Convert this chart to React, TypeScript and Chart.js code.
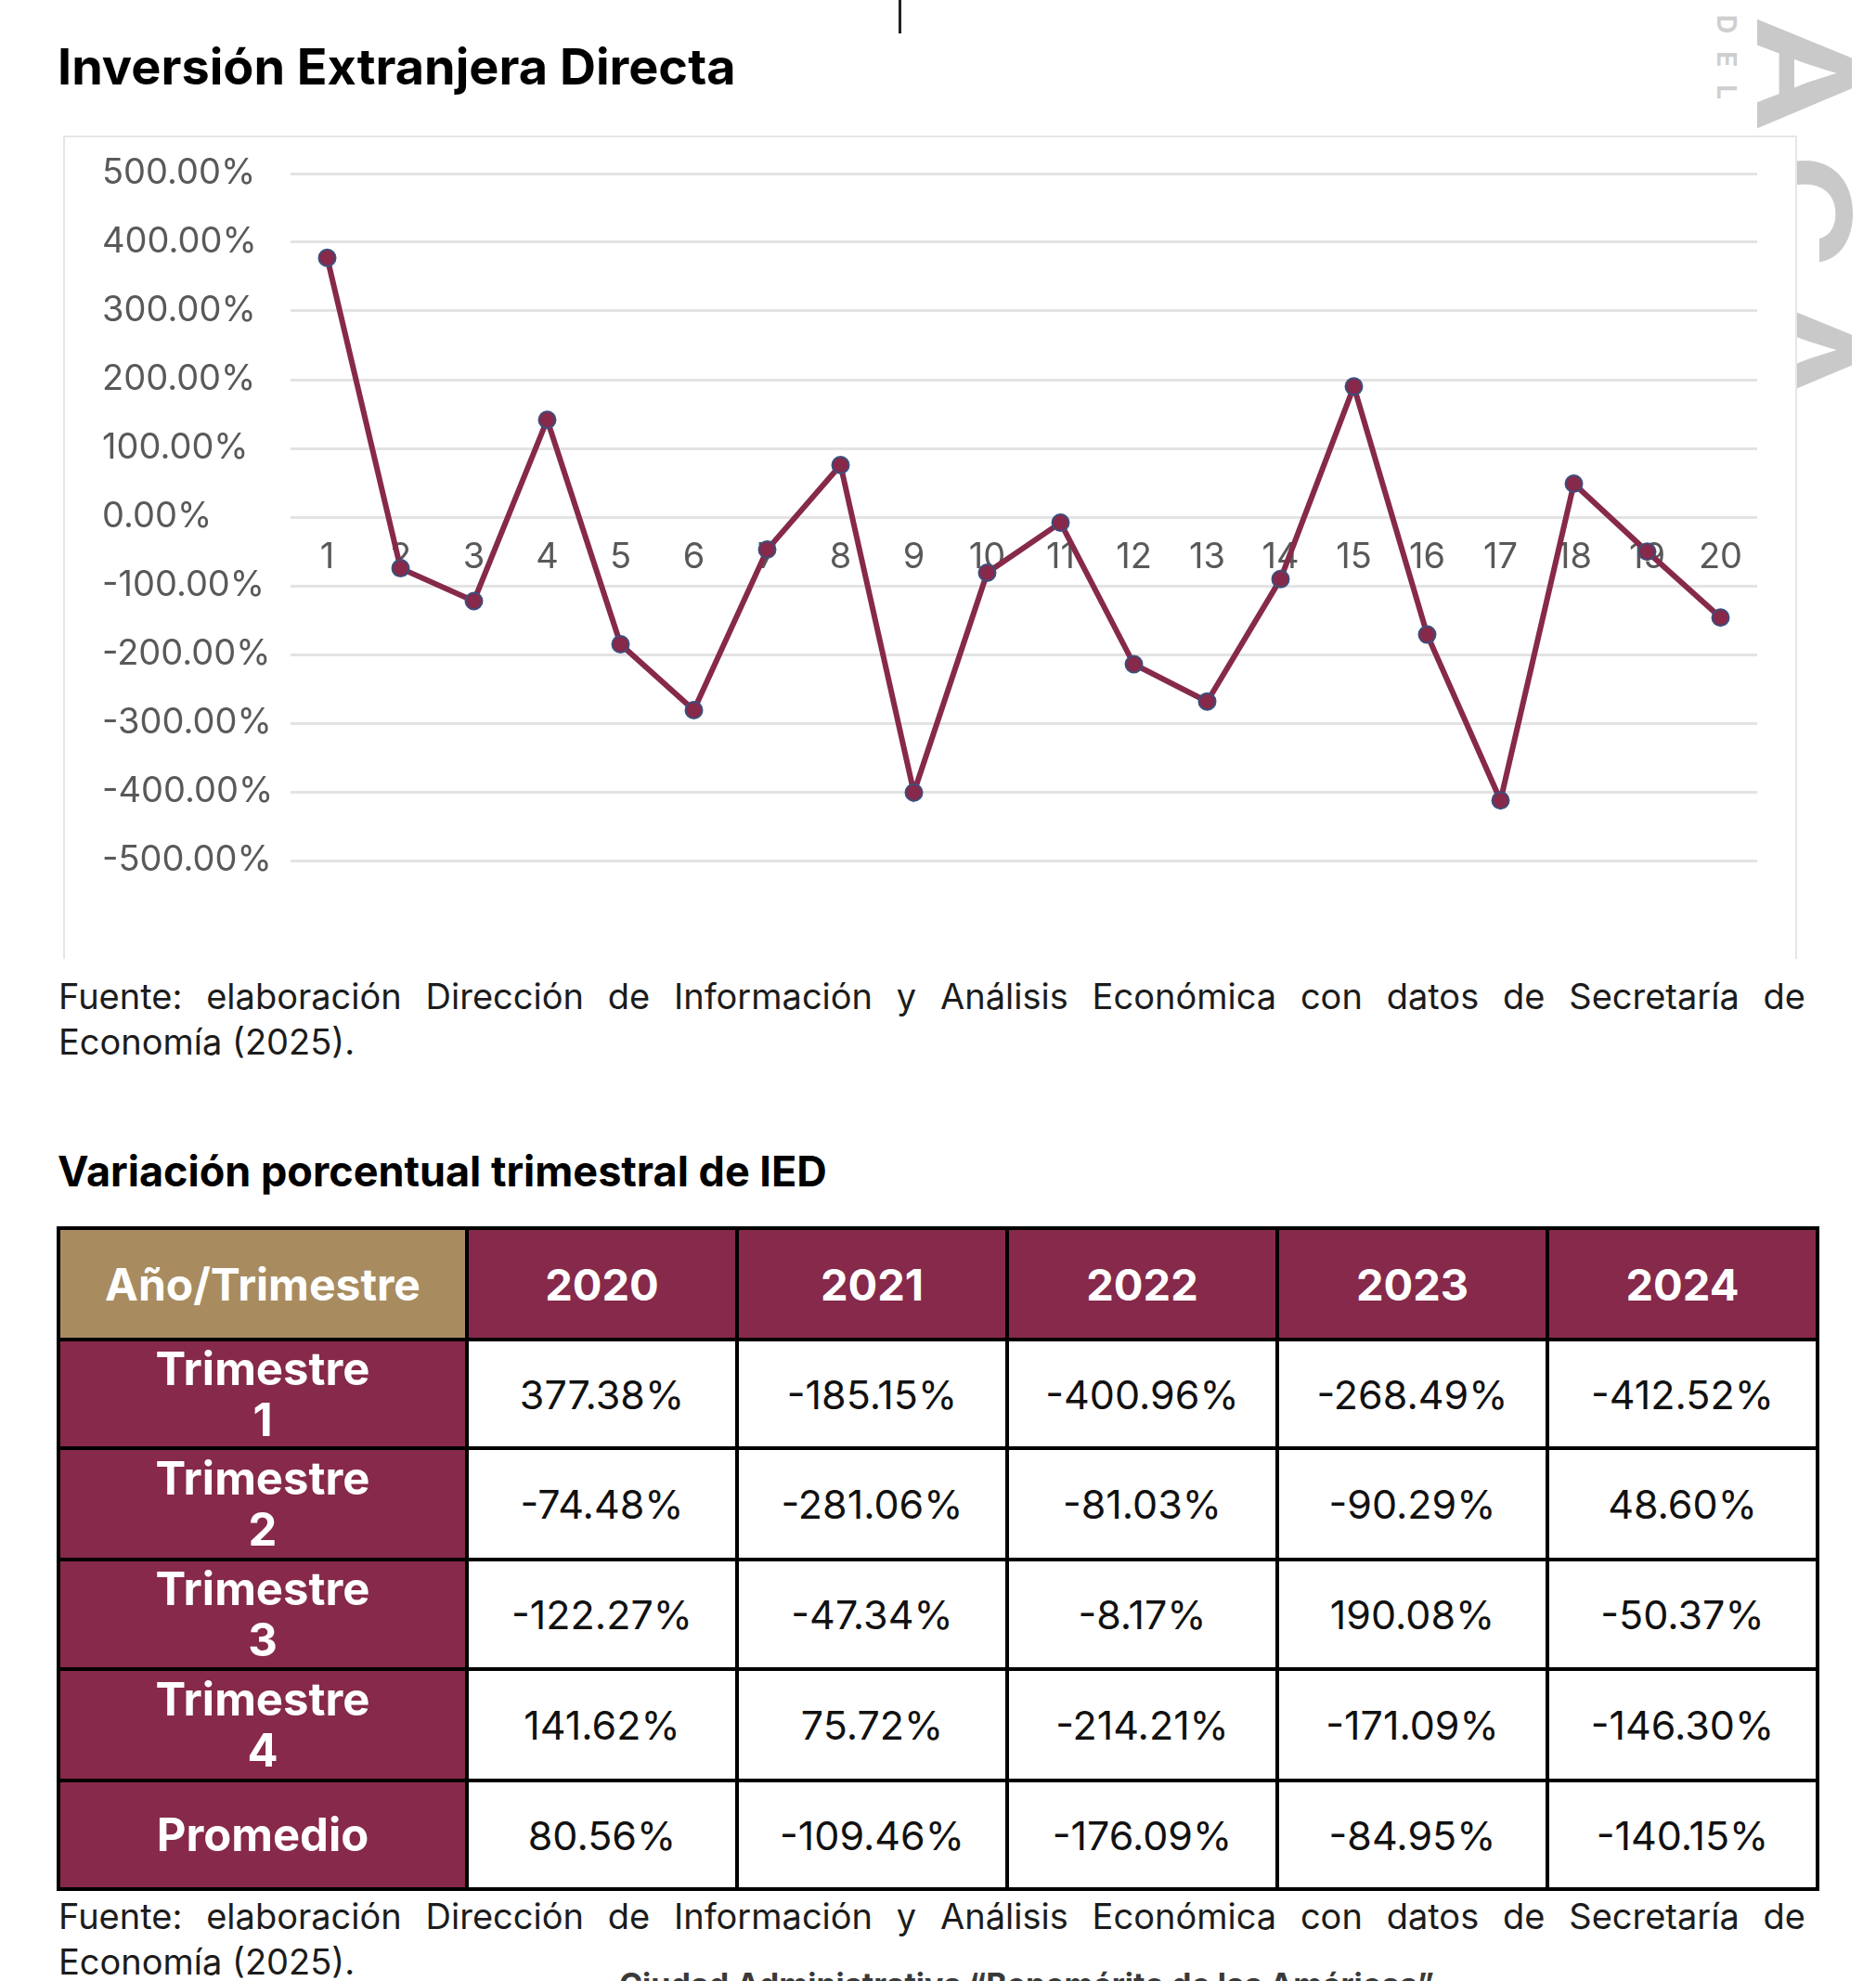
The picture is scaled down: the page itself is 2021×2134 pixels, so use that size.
import React, { useEffect, useRef } from 'react';
import { Chart, registerables } from 'chart.js';

Chart.register(...registerables);

// ---- data ----
const quarterLabels = ['1', '2', '3', '4', '5', '6', '7', '8', '9', '10', '11', '12', '13', '14', '15', '16', '17', '18', '19', '20'];
const variation = [
  377.38, -74.48, -122.27, 141.62,
  -185.15, -281.06, -47.34, 75.72,
  -400.96, -81.03, -8.17, -214.21,
  -268.49, -90.29, 190.08, -171.09,
  -412.52, 48.6, -50.37, -146.3,
];
const yMin = -500;
const yMax = 500;
const yStep = 100;

const years = ['2020', '2021', '2022', '2023', '2024'];
const rowLabels = [['Trimestre', '1'], ['Trimestre', '2'], ['Trimestre', '3'], ['Trimestre', '4'], ['Promedio']];
const averages = [80.56, -109.46, -176.09, -84.95, -140.15];

const MAROON = '#86294A';
const TAN = '#A88C60';
const FONT = 'Inter, "Noto Sans", sans-serif';

const fmt = (v: number) => v.toFixed(2) + '%';

function LineChart() {
  const ref = useRef<HTMLCanvasElement | null>(null);
  useEffect(() => {
    if (!ref.current) return;
    const chart = new Chart(ref.current, {
      type: 'line',
      data: {
        labels: quarterLabels,
        datasets: [
          {
            data: variation,
            borderColor: MAROON,
            borderWidth: 6,
            tension: 0,
            pointRadius: 9,
            pointBorderWidth: 2,
            pointBackgroundColor: MAROON,
            pointBorderColor: '#3d4f7c',
            fill: false,
          },
        ],
      },
      options: {
        animation: false,
        responsive: false,
        devicePixelRatio: 1,
        layout: { padding: { left: 41, right: 41, top: 40, bottom: 104 } },
        plugins: { legend: { display: false }, tooltip: { enabled: false } },
        scales: {
          x: {
            type: 'category',
            position: { y: 0 } as any,
            offset: true,
            grid: { display: false, drawTicks: false },
            border: { display: false },
            ticks: {
              padding: 21,
              maxRotation: 0,
              autoSkip: false,
              color: '#595959',
              font: { family: FONT, size: 38 },
            },
          },
          y: {
            min: yMin,
            max: yMax,
            grid: { color: '#e3e3e3', lineWidth: 3, drawTicks: false },
            border: { display: false },
            afterFit: (scale: any) => {
              scale.width = 203;
            },
            ticks: {
              stepSize: yStep,
              crossAlign: 'far',
              color: '#595959',
              font: { family: FONT, size: 38 },
              callback: (v: any) => Number(v).toFixed(2) + '%',
            },
          },
        },
      },
    });
    return () => chart.destroy();
  }, []);
  return (
    <canvas
      ref={ref}
      width={1865}
      height={884}
      style={{ position: 'absolute', left: 69, top: 147, width: 1865, height: 884 }}
    />
  );
}

const colWidths = [436, 287, 287, 287, 287, 287];
const rowHeights = [116, 113, 116, 114, 116, 113];

function DataTable() {
  const cells: React.ReactNode[] = [];
  cells.push(
    <div key="h0" style={{ background: TAN, color: '#fff', fontWeight: 700, fontSize: 48, display: 'flex', alignItems: 'center', justifyContent: 'center' }}>
      Año/Trimestre
    </div>
  );
  years.forEach((y) =>
    cells.push(
      <div key={'h' + y} style={{ background: MAROON, color: '#fff', fontWeight: 700, fontSize: 47, display: 'flex', alignItems: 'center', justifyContent: 'center' }}>
        {y}
      </div>
    )
  );
  rowLabels.forEach((lab, r) => {
    cells.push(
      <div key={'r' + r} style={{ background: MAROON, color: '#fff', fontWeight: 700, fontSize: 49, lineHeight: '55px', display: 'flex', flexDirection: 'column', alignItems: 'center', justifyContent: 'center', textAlign: 'center' }}>
        {lab.map((t, i) => (
          <div key={i}>{t}</div>
        ))}
      </div>
    );
    years.forEach((_, c) => {
      const v = r < 4 ? variation[c * 4 + r] : averages[c];
      cells.push(
        <div key={'c' + r + '-' + c} style={{ background: '#fff', color: '#111', fontSize: 43, display: 'flex', alignItems: 'center', justifyContent: 'center' }}>
          {fmt(v)}
        </div>
      );
    });
  });
  return (
    <div
      style={{
        position: 'absolute',
        left: 61,
        top: 1321,
        background: '#000',
        padding: 4,
        display: 'grid',
        gap: 4,
        gridTemplateColumns: colWidths.map((w) => w + 'px').join(' '),
        gridTemplateRows: rowHeights.map((h) => h + 'px').join(' '),
      }}
    >
      {cells}
    </div>
  );
}

function Fuente({ top }: { top: number }) {
  return (
    <div style={{ position: 'absolute', left: 63, top, width: 1882, fontSize: 38, lineHeight: '49px', color: '#1c1c1c' }}>
      <div style={{ textAlign: 'justify', textAlignLast: 'justify' as any, whiteSpace: 'nowrap' }}>
        Fuente: elaboración Dirección de Información y Análisis Económica con datos de Secretaría de
      </div>
      <div>Economía (2025).</div>
    </div>
  );
}

export default function App() {
  return (
    <div
      style={{
        position: 'fixed',
        left: 0,
        top: 0,
        width: 2021,
        height: 2134,
        overflow: 'hidden',
        background: '#fff',
        fontFamily: FONT,
      }}
    >
      {/* watermark */}
      <div
        style={{
          position: 'absolute',
          left: 2014,
          top: -445,
          transformOrigin: '0 0',
          transform: 'rotate(90deg) scaleX(1.2)',
          fontSize: 140,
          lineHeight: '140px',
          fontWeight: 700,
          letterSpacing: 25,
          color: '#c9c9c9',
          whiteSpace: 'nowrap',
        }}
      >
        OAXACA
      </div>
      <div
        style={{
          position: 'absolute',
          left: 1874,
          top: 16,
          transformOrigin: '0 0',
          transform: 'rotate(90deg)',
          fontSize: 28,
          lineHeight: '28px',
          fontWeight: 700,
          letterSpacing: 19,
          color: '#cfcfcf',
          whiteSpace: 'nowrap',
        }}
      >
        DEL
      </div>
      <div style={{ position: 'absolute', left: 968, top: 0, width: 3, height: 36, background: '#222' }} />

      <div style={{ position: 'absolute', left: 62, top: 45, fontSize: 54, lineHeight: '54px', fontWeight: 700, color: '#000', whiteSpace: 'nowrap' }}>
        Inversión Extranjera Directa
      </div>

      {/* chart box */}
      <div
        style={{
          position: 'absolute',
          left: 68,
          top: 146,
          width: 1864,
          height: 885,
          background: '#fff',
          borderLeft: '2px solid #e6e6e6',
          borderTop: '2px solid #e6e6e6',
          borderRight: '2px solid #e6e6e6',
        }}
      />
      <LineChart />

      <Fuente top={1049} />

      <div style={{ position: 'absolute', left: 62, top: 1236, fontSize: 45, lineHeight: '52px', fontWeight: 700, color: '#000', whiteSpace: 'nowrap' }}>
        Variación porcentual trimestral de IED
      </div>

      <DataTable />

      <Fuente top={2040} />

      <div style={{ position: 'absolute', left: 600, top: 2116, width: 1012, textAlign: 'center', fontSize: 34, lineHeight: '43px', fontWeight: 700, color: '#3a3a3a', whiteSpace: 'nowrap' }}>
        Ciudad Administrativa “Benemérito de las Américas”
      </div>
    </div>
  );
}
